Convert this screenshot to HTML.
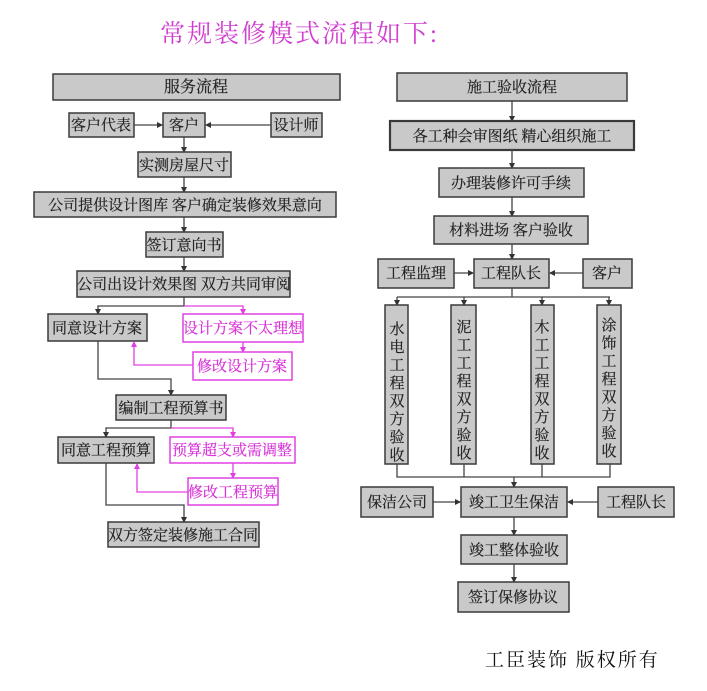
<!DOCTYPE html>
<html><head><meta charset="utf-8"><style>
html,body{margin:0;padding:0;background:#fff;width:707px;height:691px;overflow:hidden}
svg{display:block}
text{font-family:"Liberation Serif","Noto Serif CJK SC","Noto Sans CJK SC",serif;font-size:15px;fill:#222;stroke:#222;stroke-width:0.2}
.b{fill:#c9c9c9;stroke:#3a3a3a;stroke-width:1.5}
.p{fill:#fff;stroke:#e040e0;stroke-width:1.5}
.pt{fill:#d830d8;stroke:#d830d8}
.l{stroke:#444;stroke-width:1.3;fill:none}
.pl{stroke:#e040e0;stroke-width:1.3;fill:none}
</style></head><body>
<svg width="707" height="691" viewBox="0 0 707 691" xmlns="http://www.w3.org/2000/svg">
<defs>
<marker id="a" markerWidth="6" markerHeight="6" refX="5" refY="3" orient="auto" markerUnits="userSpaceOnUse"><path d="M0,0L6,3L0,6z" fill="#333"/></marker>
<marker id="pa" markerWidth="6" markerHeight="6" refX="5" refY="3" orient="auto" markerUnits="userSpaceOnUse"><path d="M0,0L6,3L0,6z" fill="#e040e0"/></marker>
</defs>
<text x="160" y="42" style="font-size:25px;fill:#d040d0;stroke:none;letter-spacing:2px">常规装修模式流程如下:</text>

<!-- left column -->
<rect class="b" x="53" y="74" width="287" height="26"/><text x="196" y="92" text-anchor="middle" style="font-size:16px">服务流程</text>
<rect class="b" x="69" y="113" width="65" height="24"/><text x="101" y="130" text-anchor="middle">客户代表</text>
<rect class="b" x="163" y="113" width="42" height="24"/><text x="184" y="130" text-anchor="middle">客户</text>
<rect class="b" x="271" y="113" width="51" height="24"/><text x="296" y="130" text-anchor="middle">设计师</text>
<line class="l" x1="134" y1="125" x2="162" y2="125" marker-end="url(#a)"/>
<line class="l" x1="271" y1="125" x2="206" y2="125" marker-end="url(#a)"/>
<line class="l" x1="184" y1="137" x2="184" y2="152" marker-end="url(#a)"/>
<rect class="b" x="138" y="152" width="93" height="25"/><text x="184" y="170" text-anchor="middle">实测房屋尺寸</text>
<line class="l" x1="184" y1="177" x2="184" y2="192" marker-end="url(#a)"/>
<rect class="b" x="34" y="192" width="302" height="25"/><text x="185" y="210" text-anchor="middle">公司提供设计图库 客户确定装修效果意向</text>
<line class="l" x1="184" y1="217" x2="184" y2="232" marker-end="url(#a)"/>
<rect class="b" x="146" y="232" width="77" height="25"/><text x="184" y="250" text-anchor="middle">签订意向书</text>
<line class="l" x1="184" y1="257" x2="184" y2="271" marker-end="url(#a)"/>
<rect class="b" x="77" y="271" width="213" height="26"/><text x="184" y="289" text-anchor="middle">公司出设计效果图 双方共同审阅</text>
<polyline class="l" points="184,297 184,306 98,306 98,314" marker-end="url(#a)"/>
<polyline class="pl" points="184,306 243,306 243,314" marker-end="url(#pa)"/>
<rect class="b" x="48" y="314" width="99" height="27"/><text x="97" y="333" text-anchor="middle">同意设计方案</text>
<rect class="p" x="183" y="314" width="120" height="28"/><text class="pt" x="243" y="333" text-anchor="middle">设计方案不太理想</text>
<line class="pl" x1="243" y1="342" x2="243" y2="352" marker-end="url(#pa)"/>
<rect class="p" x="193" y="352" width="99" height="28"/><text class="pt" x="242" y="371" text-anchor="middle">修改设计方案</text>
<polyline class="pl" points="193,365 134,365 134,342" marker-end="url(#pa)"/>
<polyline class="l" points="98,341 98,379 171,379 171,395" marker-end="url(#a)"/>
<rect class="b" x="116" y="395" width="110" height="25"/><text x="171" y="413" text-anchor="middle">编制工程预算书</text>
<polyline class="l" points="171,420 171,428 106,428 106,437" marker-end="url(#a)"/>
<polyline class="pl" points="171,428 233,428 233,437" marker-end="url(#pa)"/>
<rect class="b" x="58" y="437" width="96" height="26"/><text x="106" y="455" text-anchor="middle">同意工程预算</text>
<rect class="p" x="170" y="437" width="125" height="26"/><text class="pt" x="232" y="455" text-anchor="middle">预算超支或需调整</text>
<line class="pl" x1="233" y1="463" x2="233" y2="478" marker-end="url(#pa)"/>
<rect class="p" x="188" y="478" width="90" height="27"/><text class="pt" x="233" y="497" text-anchor="middle">修改工程预算</text>
<polyline class="pl" points="188,492 137,492 137,464" marker-end="url(#pa)"/>
<polyline class="l" points="106,463 106,505 184,505 184,522" marker-end="url(#a)"/>
<rect class="b" x="108" y="522" width="151" height="25"/><text x="183" y="540" text-anchor="middle">双方签定装修施工合同</text>

<!-- right column -->
<rect class="b" x="397" y="73" width="230" height="28"/><text x="512" y="92" text-anchor="middle">施工验收流程</text>
<line class="l" x1="512" y1="101" x2="512" y2="121" marker-end="url(#a)"/>
<rect class="b" x="390" y="121" width="244" height="29" style="stroke-width:2.2"/><text x="512" y="141" text-anchor="middle">各工种会审图纸 精心组织施工</text>
<line class="l" x1="512" y1="150" x2="512" y2="168" marker-end="url(#a)"/>
<rect class="b" x="439" y="168" width="145" height="29"/><text x="511" y="188" text-anchor="middle">办理装修许可手续</text>
<line class="l" x1="512" y1="197" x2="512" y2="216" marker-end="url(#a)"/>
<rect class="b" x="434" y="216" width="154" height="28"/><text x="511" y="235" text-anchor="middle">材料进场 客户验收</text>
<line class="l" x1="512" y1="244" x2="512" y2="259" marker-end="url(#a)"/>
<rect class="b" x="378" y="259" width="76" height="29"/><text x="416" y="278" text-anchor="middle">工程监理</text>
<rect class="b" x="474" y="259" width="75" height="29"/><text x="511" y="278" text-anchor="middle">工程队长</text>
<rect class="b" x="583" y="259" width="49" height="29"/><text x="607" y="278" text-anchor="middle">客户</text>
<line class="l" x1="454" y1="273" x2="473" y2="273" marker-end="url(#a)"/>
<line class="l" x1="583" y1="273" x2="550" y2="273" marker-end="url(#a)"/>
<line class="l" x1="512" y1="288" x2="512" y2="297"/>
<line class="l" x1="397" y1="297" x2="610" y2="297"/>
<line class="l" x1="397" y1="297" x2="397" y2="305" marker-end="url(#a)"/>
<line class="l" x1="464" y1="297" x2="464" y2="305" marker-end="url(#a)"/>
<line class="l" x1="542" y1="297" x2="542" y2="305" marker-end="url(#a)"/>
<line class="l" x1="609" y1="297" x2="609" y2="305" marker-end="url(#a)"/>
<rect class="b" x="385" y="305" width="23" height="159"/>
<rect class="b" x="451" y="305" width="25" height="159"/>
<rect class="b" x="531" y="305" width="23" height="159"/>
<rect class="b" x="597" y="305" width="24" height="159"/>
<g text-anchor="middle">
<text x="397" y="334">水</text><text x="397" y="352">电</text><text x="397" y="370">工</text><text x="397" y="388">程</text><text x="397" y="406">双</text><text x="397" y="424">方</text><text x="397" y="442">验</text><text x="397" y="460">收</text>
<text x="464" y="332">泥</text><text x="464" y="350">工</text><text x="464" y="368">工</text><text x="464" y="386">程</text><text x="464" y="404">双</text><text x="464" y="422">方</text><text x="464" y="440">验</text><text x="464" y="458">收</text>
<text x="542" y="332">木</text><text x="542" y="350">工</text><text x="542" y="368">工</text><text x="542" y="386">程</text><text x="542" y="404">双</text><text x="542" y="422">方</text><text x="542" y="440">验</text><text x="542" y="458">收</text>
<text x="609" y="330">涂</text><text x="609" y="348">饰</text><text x="609" y="366">工</text><text x="609" y="384">程</text><text x="609" y="402">双</text><text x="609" y="420">方</text><text x="609" y="438">验</text><text x="609" y="456">收</text>
</g>
<polyline class="l" points="397,464 397,477 610,477 610,464"/>
<line class="l" x1="464" y1="464" x2="464" y2="477"/>
<line class="l" x1="542" y1="464" x2="542" y2="477"/>
<line class="l" x1="514" y1="477" x2="514" y2="487" marker-end="url(#a)"/>
<rect class="b" x="361" y="487" width="72" height="30"/><text x="397" y="507" text-anchor="middle">保洁公司</text>
<rect class="b" x="461" y="487" width="106" height="30"/><text x="514" y="507" text-anchor="middle">竣工卫生保洁</text>
<rect class="b" x="598" y="487" width="76" height="30"/><text x="636" y="507" text-anchor="middle">工程队长</text>
<line class="l" x1="433" y1="502" x2="460" y2="502" marker-end="url(#a)"/>
<line class="l" x1="598" y1="502" x2="568" y2="502" marker-end="url(#a)"/>
<line class="l" x1="514" y1="517" x2="514" y2="535" marker-end="url(#a)"/>
<rect class="b" x="461" y="535" width="106" height="29"/><text x="514" y="555" text-anchor="middle">竣工整体验收</text>
<line class="l" x1="514" y1="564" x2="514" y2="582" marker-end="url(#a)"/>
<rect class="b" x="458" y="582" width="111" height="30"/><text x="513" y="602" text-anchor="middle">签订保修协议</text>

<text x="485" y="666" style="font-size:19px;fill:#111;stroke:none;letter-spacing:2px">工臣装饰 版权所有</text>
</svg>
</body></html>
